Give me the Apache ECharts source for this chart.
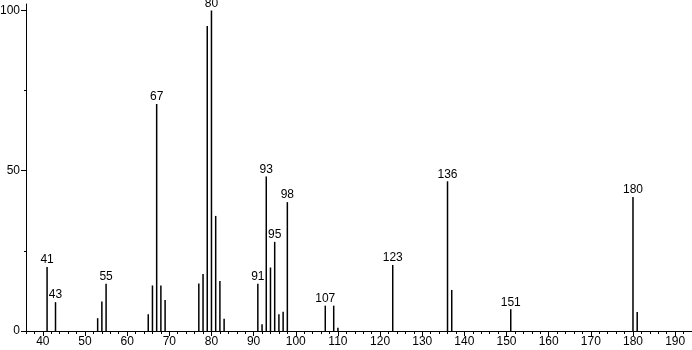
<!DOCTYPE html>
<html>
<head>
<meta charset="utf-8">
<script src="https://cdn.jsdelivr.net/npm/echarts@6/dist/echarts.min.js"></script>
<style>
  html, body { margin: 0; padding: 0; background: #fff; }
  #chart { width: 692px; height: 350px; }
</style>
</head>
<body>
<div id="chart"></div>
<script>
// m/z values and relative intensities
var masses      = [41, 43, 53, 54, 55, 65, 66, 67, 68, 69, 77, 78, 79, 80, 81, 82, 83, 91, 92, 93, 94, 95, 96, 97, 98, 107, 109, 110, 123, 136, 137, 151, 180, 181];
var intensities = [20, 9, 4, 9.2, 14.7, 5.2, 14.2, 70.8, 14.2, 9.7, 14.8, 17.8, 95.1, 100, 35.9, 15.6, 3.8, 14.7, 2.1, 48.2, 19.8, 27.8, 5.2, 6.0, 40.2, 7.9, 7.9, 1.0, 20.6, 46.7, 12.8, 6.8, 41.8, 5.9];
var labeledMasses = [41, 43, 55, 67, 80, 91, 93, 95, 98, 107, 123, 136, 151, 180];
var xTickLabels = [40, 50, 60, 70, 80, 90, 100, 110, 120, 130, 140, 150, 160, 170, 180, 190];
var yTickLabels = [0, 50, 100];
var yMinorTicks = [25, 75];

var xMin = 36, xMax = 194;
var xMinorTicks = [];
for (var v = xMin; v <= xMax; v += 2) { if (v % 10 !== 0) xMinorTicks.push(v); }

var data = masses.map(function (m, i) {
  return {
    value: [m, intensities[i]],
    label: { show: labeledMasses.indexOf(m) >= 0 }
  };
});

var font = 'Liberation Sans';
var chart = echarts.init(document.getElementById('chart'), null, { renderer: 'canvas' });
chart.setOption({
  animation: false,
  grid: { left: 26, right: 0, top: 4, bottom: 19, containLabel: false, outerBoundsMode: 'none' },
  xAxis: [{
    type: 'value', min: xMin, max: xMax,
    axisLine: { show: true, lineStyle: { color: '#000', width: 1 } },
    axisTick: { show: true, customValues: xTickLabels, length: 5, lineStyle: { color: '#000' } },
    axisLabel: { customValues: xTickLabels, color: '#000', fontFamily: font, fontSize: 12, margin: 5 },
    splitLine: { show: false }
  }, {
    type: 'value', min: xMin, max: xMax, position: 'bottom',
    axisLine: { show: false },
    axisTick: { show: true, customValues: xMinorTicks, length: 3, lineStyle: { color: '#000' } },
    axisLabel: { show: false },
    splitLine: { show: false }
  }],
  yAxis: [{
    type: 'value', min: 0, max: 102,
    axisLine: { show: true, lineStyle: { color: '#000', width: 1 } },
    axisTick: { show: true, customValues: yTickLabels, length: 5, lineStyle: { color: '#000' } },
    axisLabel: { customValues: yTickLabels, color: '#000', fontFamily: font, fontSize: 12, margin: 6 },
    splitLine: { show: false }
  }, {
    type: 'value', min: 0, max: 102, position: 'left',
    axisLine: { show: false },
    axisTick: { show: true, customValues: yMinorTicks, length: 2, lineStyle: { color: '#000' } },
    axisLabel: { show: false },
    splitLine: { show: false }
  }],
  series: [{
    type: 'bar',
    xAxisIndex: 0, yAxisIndex: 0,
    barWidth: 1.5,
    itemStyle: { color: '#000' },
    label: {
      position: 'top', distance: 1, color: '#000', fontFamily: font, fontSize: 12,
      formatter: function (p) { return String(p.value[0]); }
    },
    data: data
  }]
});
</script>
</body>
</html>
